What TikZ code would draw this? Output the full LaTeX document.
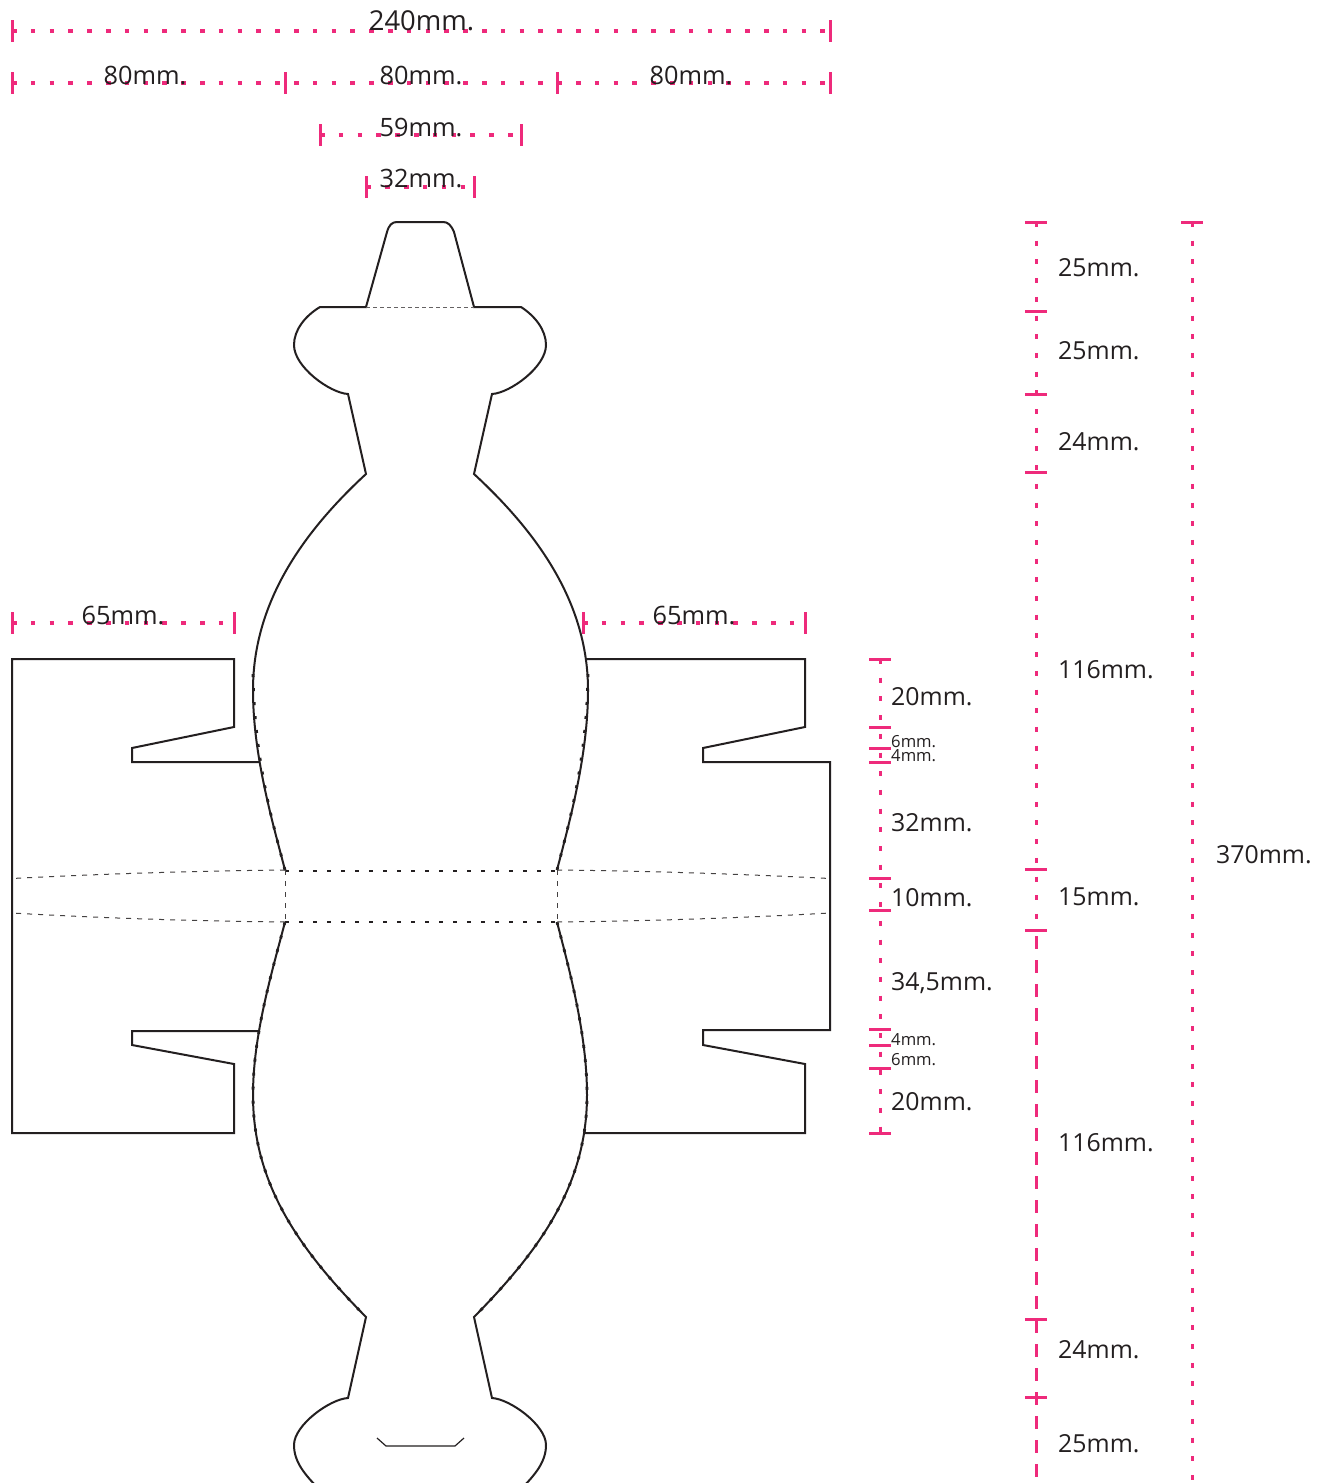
\documentclass[tikz,border=0pt]{standalone}
\usepackage{fontspec}
\setmainfont{Open Sans}
\definecolor{dimpink}{HTML}{EE2A7B}
\definecolor{ink}{HTML}{231F20}
\newcommand{\px}{0.8536pt}
\tikzset{
  x=0.03cm,y=-0.03cm,
  outline/.style={draw=ink,line width=2*\px,line join=miter},
  cutline/.style={draw=ink,line width=2*\px},
  nubs/.style={draw=ink,line width=2.8*\px,dash pattern=on 3*\px off 11*\px},
  foldbold/.style={draw=ink,line width=2*\px,dash pattern=on 4*\px off 10*\px},
  foldthin/.style={draw=ink!85,line width=1*\px,dash pattern=on 5*\px off 6*\px},
  foldgrey/.style={draw=ink!70,line width=1.3*\px,dash pattern=on 4*\px off 3*\px},
  hdim/.style={draw=dimpink,line width=3.2*\px,dash pattern=on 4.5*\px off 14.3*\px},
  vdim/.style={draw=dimpink,line width=3*\px,dash pattern=on 5*\px off 13.7*\px},
  vdimlong/.style={draw=dimpink,line width=3*\px,dash pattern=on 13*\px off 11*\px},
  tick/.style={draw=dimpink,line width=3*\px},
  biglab/.style={text=ink,inner sep=0pt,font=\fontsize{21.6pt}{24pt}\selectfont,anchor=base},
  toplab/.style={text=ink,inner sep=0pt,font=\fontsize{23.4pt}{26pt}\selectfont,anchor=base},
  sidelab/.style={text=ink,inner sep=0pt,font=\fontsize{21.2pt}{24pt}\selectfont,anchor=base west},
  smalllab/.style={text=ink,inner sep=0pt,font=\fontsize{14.2pt}{16pt}\selectfont,anchor=base west},
}
\begin{document}
\begin{tikzpicture}
\useasboundingbox (0,0) rectangle (1328,1483);
\clip (0,0) rectangle (1328,1483);
\fill[white] (0,0) rectangle (1328,1483);

% side panels
\path[cutline] (259,762) -- (132,762) -- (132,748) -- (234,727) -- (234,659) -- (12,659) -- (12,1133) -- (234,1133) -- (234,1064) -- (132,1045) -- (132,1031) -- (259,1031);
\path[cutline] (585,659) -- (805,659) -- (805,727) -- (703,748) -- (703,762) -- (830,762) -- (830,1030) -- (703,1030) -- (703,1045) -- (805,1064) -- (805,1133) -- (585,1133);
\path[nubs] (585,659) -- (805,659) -- (805,727);
\path[nubs] (703,762) -- (830,762) -- (830,1030);

% body outline, upper part
\path[outline]
 (285,870) .. controls (272,820) and (253,755) .. (253,690)
 .. controls (253,605) and (300,535) .. (366,474)
 -- (348,394) .. controls (330,393) and (294,367) .. (294,345)
 .. controls (294,330) and (305,316) .. (320,307)
 -- (366,307) -- (387,232) .. controls (389,225) and (392,222) .. (397,222)
 -- (443,222) .. controls (448,222) and (451,225) .. (454,232)
 -- (474,307) -- (521,307) .. controls (535,316) and (546,330) .. (546,345)
 .. controls (546,367) and (510,393) .. (492,394)
 -- (474,474) .. controls (540,535) and (588,605) .. (588,690)
 .. controls (588,755) and (570,820) .. (557,870);
% body outline, lower part
\path[outline]
 (285,922) .. controls (272,972) and (253,1035) .. (253,1095)
 .. controls (253,1185) and (300,1250) .. (366,1317)
 -- (348,1398) .. controls (330,1399) and (294,1425) .. (294,1445)
 .. controls (294,1462) and (305,1475) .. (320,1490)
 -- (520,1490) .. controls (535,1475) and (546,1462) .. (546,1445)
 .. controls (546,1425) and (510,1399) .. (492,1398)
 -- (474,1317) .. controls (540,1250) and (587,1185) .. (587,1095)
 .. controls (587,1035) and (570,972) .. (557,922);
% small marks along the curved folds
\path[nubs] (285,870) .. controls (272,820) and (253,755) .. (253,665);
\path[nubs] (557,870) .. controls (570,820) and (588,755) .. (588,665);
\path[nubs] (285,922) .. controls (272,972) and (253,1035) .. (253,1095) .. controls (253,1185) and (300,1250) .. (366,1317);
\path[nubs] (557,922) .. controls (570,972) and (587,1035) .. (587,1095) .. controls (587,1185) and (540,1250) .. (474,1317);
\path[cutline,line width=1.2*\px] (377,1438) -- (386,1446) -- (455,1446) -- (464,1438);

% fold lines
\path[foldgrey] (366,307.5) -- (474,307.5);
\path[foldbold] (285,870.5) -- (557,870.5);
\path[foldbold] (285,922) -- (557,922);
\path[foldthin] (285,870) -- (285,922);
\path[foldthin] (557,870) -- (557,922);
\path[foldthin] (285,870) .. controls (190,871) and (100,874) .. (12,878.5);
\path[foldthin] (285,922) .. controls (190,921) and (100,918) .. (12,913);
\path[foldthin] (557,870) .. controls (650,871) and (740,874) .. (830,878.5);
\path[foldthin] (557,922) .. controls (650,921) and (740,918) .. (830,913);

% horizontal dimensions
\path[hdim] (12,31) -- (830,31);
\path[hdim] (12,83) -- (830,83);
\path[hdim] (320,135) -- (521,135);
\path[hdim] (366.5,187) -- (474,187);
\path[hdim] (12,623) -- (234,623);
\path[hdim] (583,623) -- (805,623);
\foreach \xx/\yy in {12/31,830/31,12/83,285/83,557/83,830/83,320/135,521/135,366.5/187,474/187,12/623,234/623,583/623,805/623}
  \path[tick] (\xx,\yy-11) -- (\xx,\yy+11);

% vertical dimensions
\path[vdim] (880,659) -- (880,1133);
\path[vdim] (1036,222) -- (1036,930);
\path[vdimlong] (1036,936) -- (1036,1483);
\path[vdim] (1192,222) -- (1192,1483);
\foreach \yy in {659,727,748,762,878,910,1029,1045,1068,1133}
  \path[tick] (869,\yy) -- (891,\yy);
\foreach \yy in {222,311,394,472,869,930,1319,1397}
  \path[tick] (1025,\yy) -- (1047,\yy);
\path[tick] (1181,222) -- (1203,222);

% labels
\node[toplab] (w240) at (421.5,31) {240mm.};
\node[biglab] (w80a) at (145,84) {80mm.};
\node[biglab] (w80b) at (421,84) {80mm.};
\node[biglab] (w80c) at (691,84) {80mm.};
\node[biglab] (w59) at (421,136) {59mm.};
\node[biglab] (w32) at (421,187) {32mm.};
\node[biglab] (w65a) at (123,624) {65mm.};
\node[biglab] (w65b) at (694,624) {65mm.};

\node[sidelab] (a20) at (891,705) {20mm.};
\node[smalllab] (a6) at (891,747) {6mm.};
\node[smalllab] (a4) at (891,761.5) {4mm.};
\node[sidelab] (a32) at (891,831) {32mm.};
\node[sidelab] (a10) at (891,906) {10mm.};
\node[sidelab] (a345) at (891,990) {34,5mm.};
\node[smalllab] (b4) at (891,1045) {4mm.};
\node[smalllab] (b6) at (891,1065) {6mm.};
\node[sidelab] (b20) at (891,1110) {20mm.};

\node[sidelab] (c25a) at (1058,276) {25mm.};
\node[sidelab] (c25b) at (1058,359) {25mm.};
\node[sidelab] (c24a) at (1058,450) {24mm.};
\node[sidelab] (c116a) at (1058,678) {116mm.};
\node[sidelab] (c15) at (1058,905) {15mm.};
\node[sidelab] (c116b) at (1058,1151) {116mm.};
\node[sidelab] (c24b) at (1058,1358) {24mm.};
\node[sidelab] (c25c) at (1058,1452) {25mm.};
\node[sidelab] (d370) at (1216,863) {370mm.};
\end{tikzpicture}
\end{document}
